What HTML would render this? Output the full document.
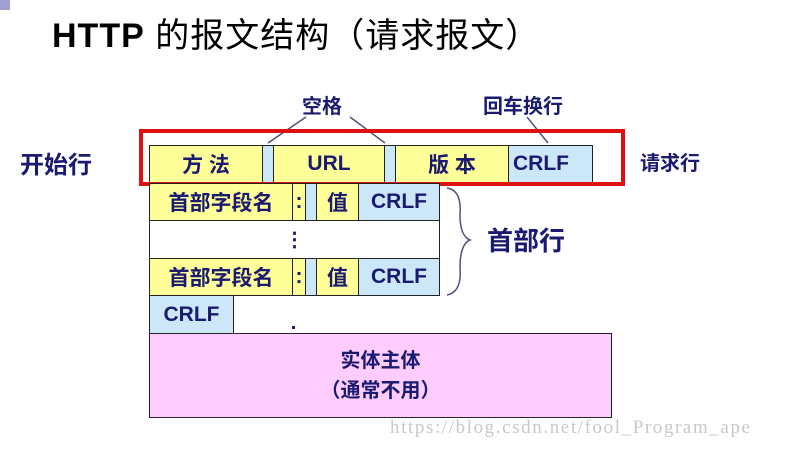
<!DOCTYPE html>
<html><head><meta charset="utf-8"><style>
body{margin:0;width:800px;height:449px;background:#fff;position:relative;overflow:hidden;font-family:"Liberation Sans","Noto Sans CJK SC",sans-serif}
.b{position:absolute;box-sizing:border-box;border:1.5px solid #222;display:flex;align-items:center;justify-content:center;color:#1a1a70;font-weight:bold;font-size:21px}
.y{background:#ffff99}.c{background:#cce8f8}.p{background:#ffccff}.w{background:#fff}
.t{position:absolute;color:#1a1a70;font-weight:bold;white-space:nowrap}
</style></head><body>
<div style="position:absolute;left:0;top:0;width:10px;height:10px;background:#a0a0d0"></div>
<div class="t" style="left:52px;top:8px;font-size:34px;color:#000;font-weight:normal;letter-spacing:1px"><b>HTTP</b> 的报文结构（请求报文）</div>

<div class="t" style="left:20px;top:145px;font-size:24px">开始行</div>
<div class="t" style="left:640px;top:147px;font-size:20px">请求行</div>
<div class="t" style="left:302px;top:90px;font-size:20px">空格</div>
<div class="t" style="left:483px;top:90px;font-size:20px">回车换行</div>
<div class="t" style="left:487px;top:221px;font-size:26px">首部行</div>

<svg style="position:absolute;left:0;top:0" width="800" height="449">
<g stroke="#505080" stroke-width="1.5" fill="none">
<path d="M306 117 L268 143"/><path d="M350 117 L385 143"/><path d="M527 117 L548 143"/>
<path d="M447 188 Q462 190 460 215 Q460 236 470 240 Q460 244 460 268 Q462 292 447 295"/>
</g></svg>

<div class="b c" style="left:149px;top:145px;width:444px;height:38px"></div>
<div class="b y" style="left:149px;top:145px;width:114px;height:38px">方 法</div>
<div class="b y" style="left:273px;top:145px;width:112px;height:38px">URL</div>
<div class="b y" style="left:395px;top:145px;width:114px;height:38px">版 本</div>
<div class="b c" style="left:508px;top:145px;width:85px;height:38px;justify-content:flex-start;padding-left:4px">CRLF</div>
<div style="position:absolute;left:139px;top:129px;width:486px;height:57px;box-sizing:border-box;border:4px solid #dd1111"></div>

<div class="b c" style="left:149px;top:183px;width:291px;height:38px"></div>
<div class="b y" style="left:149px;top:183px;width:144px;height:38px">首部字段名</div>
<div class="b y" style="left:292px;top:183px;width:14px;height:38px">:</div>
<div class="b y" style="left:316px;top:183px;width:43px;height:38px">值</div>
<div class="b c" style="left:358px;top:183px;width:82px;height:38px">CRLF</div>

<div class="b w" style="left:149px;top:220px;width:291px;height:39px;font-size:20px">⋮</div>

<div class="b c" style="left:149px;top:258px;width:291px;height:38px"></div>
<div class="b y" style="left:149px;top:258px;width:144px;height:38px">首部字段名</div>
<div class="b y" style="left:292px;top:258px;width:14px;height:38px">:</div>
<div class="b y" style="left:316px;top:258px;width:43px;height:38px">值</div>
<div class="b c" style="left:358px;top:258px;width:82px;height:38px">CRLF</div>

<div class="b c" style="left:149px;top:295px;width:85px;height:39px">CRLF</div>
<div style="position:absolute;left:292px;top:326px;width:3px;height:3px;background:#1a1a70"></div>
<div class="b p" style="left:149px;top:333px;width:463px;height:85px;flex-direction:column;font-size:20px;line-height:30px">实体主体<span>（通常不用）</span></div>

<div style="position:absolute;left:390px;top:417px;font-family:'Liberation Serif',serif;font-size:19px;letter-spacing:1.6px;color:#c8c8c8;white-space:nowrap">https://blog.csdn.net/fool_Program_ape</div>
</body></html>
